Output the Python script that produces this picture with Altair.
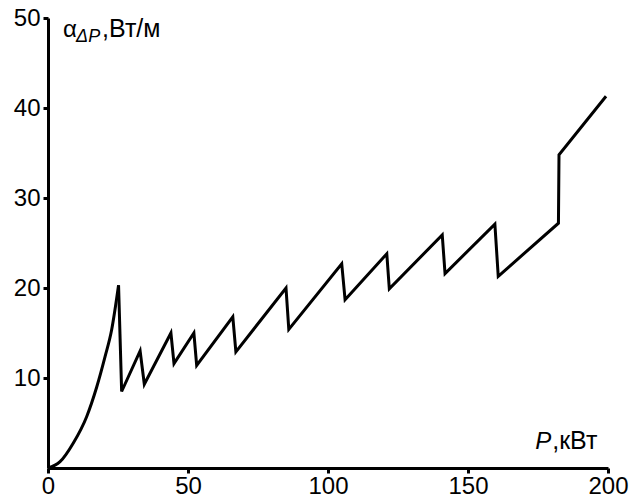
import altair as alt
import pandas as pd

# smooth initial part of the curve (P, kW) -> alpha (W/m)
p_curve = [0, 4.3, 9.0, 13.8, 17.4, 20.4, 22.7, 25.2]
a_curve = [0, 0.7, 2.75, 5.7, 9.0, 12.4, 15.3, 20.3]

# saw-tooth part (starts at the first peak)
p_saw = [25.2, 26.3, 32.9, 34.4, 43.9, 45.0, 52.1, 53.1, 66.0, 67.1, 85.0, 86.0,
         104.9, 106.1, 121.0, 121.9, 140.8, 141.8, 159.6, 160.8, 182.3, 182.5, 199.3]
a_saw = [20.3, 8.5, 13.0, 9.3, 15.0, 11.6, 15.0, 11.4, 16.8, 12.9, 20.0, 15.4,
         22.7, 18.7, 23.8, 19.9, 25.9, 21.6, 27.1, 21.3, 27.2, 34.8, 41.3]

x_ticks = [0, 50, 100, 150, 200]
y_ticks = [10, 20, 30, 40, 50]

# axis title anchors (data coordinates)
y_title_pos = [5.4, 47.9]
x_title_pos = [174.0, 2.1]

FONT = "Liberation Sans"

df_c = pd.DataFrame({"P": p_curve, "a": a_curve, "i": list(range(len(p_curve)))})
df_s = pd.DataFrame({"P": p_saw, "a": a_saw, "i": list(range(len(p_saw)))})

xs = alt.Scale(domain=[0, 200], nice=False, zero=True)
ys = alt.Scale(domain=[0, 50], nice=False, zero=True)

axis_common = dict(
    domainColor="black", domainWidth=3, tickColor="black", tickWidth=3,
    tickSize=5, grid=False, labelFont=FONT, labelFontSize=24,
    labelColor="black", title="", labelFlush=False,
)

curve = alt.Chart(df_c).mark_line(color="black", strokeWidth=3,
                                  interpolate="monotone").encode(
    x=alt.X("P:Q", scale=xs, axis=alt.Axis(values=x_ticks, labelPadding=1, **axis_common)),
    y=alt.Y("a:Q", scale=ys, axis=alt.Axis(values=y_ticks, labelPadding=3, **axis_common)),
    order="i:O",
)
saw = alt.Chart(df_s).mark_line(color="black", strokeWidth=3, strokeJoin="miter").encode(
    x=alt.X("P:Q", scale=xs),
    y=alt.Y("a:Q", scale=ys),
    order="i:O",
)

yt = pd.DataFrame({"x": [y_title_pos[0]], "y": [y_title_pos[1]]})
alpha = alt.Chart(yt).mark_text(text="α", font=FONT, fontSize=24, align="left",
                                baseline="alphabetic", color="black").encode(
    x=alt.X("x:Q", scale=xs), y=alt.Y("y:Q", scale=ys))
sub = alt.Chart(yt).mark_text(text="ΔP", font=FONT, fontSize=18, fontStyle="italic",
                              align="left", baseline="alphabetic", dx=13, dy=5,
                              color="black").encode(
    x=alt.X("x:Q", scale=xs), y=alt.Y("y:Q", scale=ys))
unit = alt.Chart(yt).mark_text(text=",Вт/м", font=FONT, fontSize=25, align="left",
                               baseline="alphabetic", dx=39, color="black").encode(
    x=alt.X("x:Q", scale=xs), y=alt.Y("y:Q", scale=ys))

xt = pd.DataFrame({"x": [x_title_pos[0]], "y": [x_title_pos[1]]})
ptxt = alt.Chart(xt).mark_text(text="P", font=FONT, fontSize=24, fontStyle="italic",
                               align="left", baseline="alphabetic", color="black").encode(
    x=alt.X("x:Q", scale=xs), y=alt.Y("y:Q", scale=ys))
kw = alt.Chart(xt).mark_text(text=",кВт", font=FONT, fontSize=25, align="left",
                             baseline="alphabetic", dx=17, color="black").encode(
    x=alt.X("x:Q", scale=xs), y=alt.Y("y:Q", scale=ys))

chart = alt.layer(curve, saw, alpha, sub, unit, ptxt, kw).properties(
    width=560, height=450,
    padding={"left": 48, "top": 18, "right": 23, "bottom": 31},
    autosize=alt.AutoSizeParams(type="none"),
    background="white",
).configure_view(stroke=None)

chart.save("out.html", embed_options={"renderer": "svg", "actions": False})
